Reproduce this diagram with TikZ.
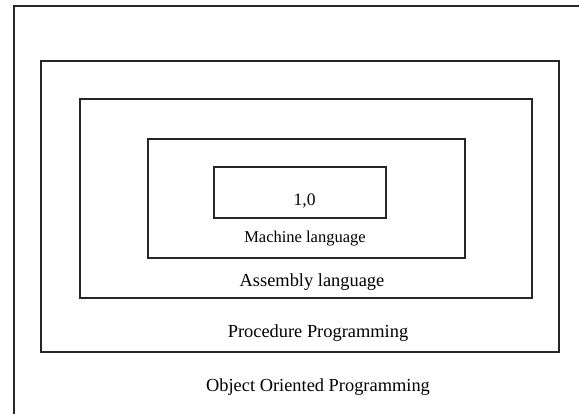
\documentclass[tikz,border=0pt]{standalone}
\usepackage{fontspec}
\setmainfont{Liberation Serif}
\begin{document}
\begin{tikzpicture}[x=1pt,y=-1pt,
  frame/.style={draw=black!85,line width=1.4pt},
  lbl/.style={inner sep=0pt,font=\fontsize{18.4}{21}\selectfont},
  numlbl/.style={inner sep=0pt,font=\fontsize{17.5}{20}\selectfont},
  smalllbl/.style={inner sep=0pt,font=\fontsize{16.5}{19}\selectfont}]
\useasboundingbox[fill=white] (0,0) rectangle (579,414);
% outermost frame (only left and top edges visible)
\coordinate (otr) at (579,6);
\coordinate (otl) at (14,6);
\coordinate (obl) at (14,414);
\draw[frame] (otr) -- (otl) -- (obl);
% nested boxes
\draw[frame] (41,61) rectangle (559,352) coordinate (proc);
\draw[frame] (80,99) rectangle (532,298) coordinate (asm);
\draw[frame] (148,139) rectangle (465,258) coordinate (mach);
\draw[frame] (214,167) rectangle (386,218) coordinate (bin);
% labels
\node[numlbl] (t10) at (304.6,200.7) {1,0};
\node[smalllbl] (tmach) at (305,239) {Machine language};
\node[lbl] (tasm) at (312,281.7) {Assembly language};
\node[lbl] (tproc) at (318,333) {Procedure Programming};
\node[lbl] (toop) at (318,387) {Object Oriented Programming};
\end{tikzpicture}
\end{document}
